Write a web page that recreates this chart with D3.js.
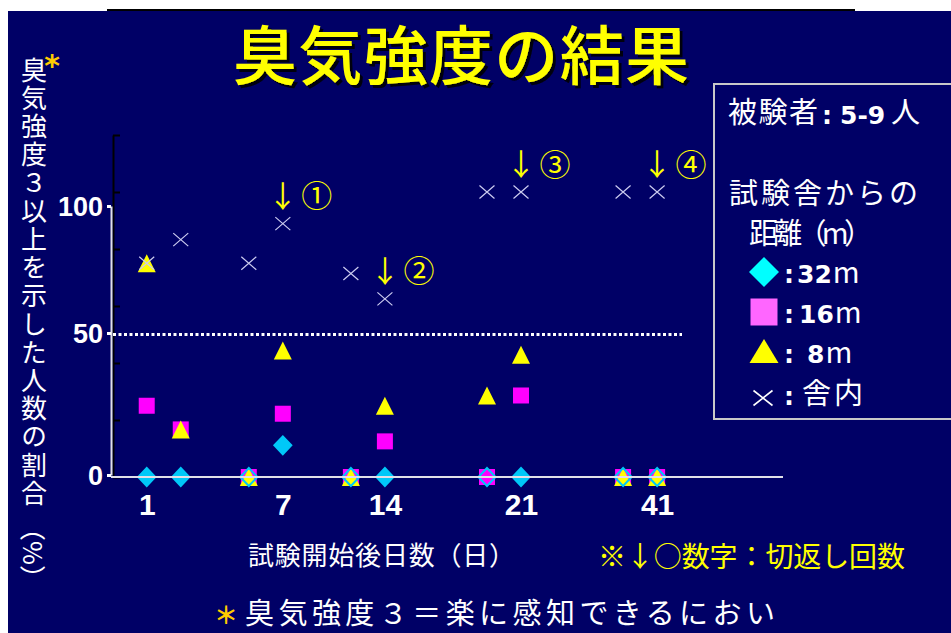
<!DOCTYPE html>
<html><head><meta charset="utf-8">
<script src="https://cdn.jsdelivr.net/npm/d3@7"></script>
<style>
html,body{margin:0;padding:0;background:#fff;}
svg{display:block;}
</style></head><body>
<svg id="chart" width="951" height="633"></svg>
<script>
// Sampling days sit on a categorical axis; a slot is a position along it
const slots = [0, 1, 3, 4, 6, 7, 10, 11, 14, 15];
const tickSlots = [0, 4, 7, 11, 15];
const tickLabels = ["1", "7", "14", "21", "41"];

// Share (%) of panelists reporting odour intensity 3 or higher
const dist32 = [0, 0, 0, 11.1, 0, 0, 0, 0, 0, 0];
const dist16 = [25, 16.7, 0, 22.2, 0, 12.5, 0, 28.6, 0, 0];
const dist8  = [75, 16.7, 0, 44.4, 0, 25, 28.6, 42.9, 0, 0];
const indoor = [75, 83.3, 75, 88.9, 71.4, 62.5, 100, 100, 100, 100];

// Litter turning events (index into the sampling days)
const turnIdx = [3, 5, 7, 9];
const turnLabels = ["①", "②", "③", "④"];

const minorTicks = [0, 20, 40, 60, 80, 100, 120];
const yTicks = [0, 50, 100];
const refLine = 50;

const JP = "'Noto Sans CJK JP', 'Noto Sans CJK SC', sans-serif";
const NUM = "'Liberation Sans', Arial, sans-serif";
const NUMW = "'DejaVu Sans', sans-serif";
const NAVY = "#000066";

const svg = d3.select("#chart");

const defs = svg.append("defs");
defs.append("filter").attr("id", "shadow").attr("x", "-5%").attr("y", "-10%")
  .attr("width", "115%").attr("height", "130%")
  .append("feDropShadow").attr("dx", 3).attr("dy", 3).attr("stdDeviation", 0.4)
  .attr("flood-color", "#000010").attr("flood-opacity", 1);

// page and panel
svg.append("rect").attr("width", 951).attr("height", 633).attr("fill", "#fff");
svg.append("rect").attr("x", 8).attr("y", 11).attr("width", 943).attr("height", 622).attr("fill", NAVY);
svg.append("line").attr("x1", 107).attr("x2", 855).attr("y1", 10).attr("y2", 10)
  .attr("stroke", "#000").attr("stroke-width", 2);

// title with drop shadow
svg.append("text").attr("x", 461).attr("y", 51)
  .attr("text-anchor", "middle").attr("dominant-baseline", "central")
  .attr("font-family", JP).attr("font-weight", 500).attr("font-size", 64)
  .attr("textLength", 456).attr("lengthAdjust", "spacing")
  .attr("fill", "#ffff00").attr("filter", "url(#shadow)").text("臭気強度の結果");

// scales
const x = d3.scaleLinear().domain([-1.05, 18.7]).range([111, 783]);
const y = d3.scaleLinear().domain([0, 120]).range([477, 135]);
// the white labelled axis is laid over the plot with its own spacing
const yLab = d3.scaleLinear().domain([0, 50, 100]).range([475, 333, 206]);

// underlying black value axis
const gBlack = svg.append("g").attr("transform", "translate(113,0)")
  .call(d3.axisRight(y).tickValues(minorTicks).tickSize(7).tickSizeOuter(0).tickFormat(""));
gBlack.select(".domain").attr("stroke", "#000").attr("stroke-width", 2);
gBlack.selectAll(".tick line").attr("stroke", "#000").attr("stroke-width", 2);

// 50 % reference line
svg.append("line").attr("x1", 113).attr("x2", 682)
  .attr("y1", y(refLine)).attr("y2", y(refLine))
  .attr("stroke", "#fff").attr("stroke-width", 3).attr("stroke-dasharray", "3,2.5");

// marker shapes
const diamond = (w, h) => `M0,${-h}L${w},0L0,${h}L${-w},0Z`;
const square = s => `M${-s},${-s}H${s}V${s}H${-s}Z`;
const triangle = (w, h) => `M0,${-h}L${w},${h}L${-w},${h}Z`;
const cross = (w, h) => `M${-w},${-h}L${w},${h}M${w},${-h}L${-w},${h}`;

function plot(values, path, attrs) {
  const sel = svg.append("g").selectAll("path").data(values).join("path")
    .attr("transform", (d, i) => `translate(${x(slots[i])},${y(d)})`)
    .attr("d", path);
  Object.entries(attrs).forEach(([k, v]) => sel.attr(k, v));
  return sel;
}

plot(dist32, diamond(8.5, 9), { fill: "#00c8f8" });
plot(dist16, square(8), { fill: "#ff00ff" });
plot(dist8, triangle(9, 9), { fill: "#ffff00" });
plot(dist32, diamond(8.5, 9), { fill: "none", stroke: "#00c8f8", "stroke-width": 2 });
plot(indoor, cross(7.5, 6.5), { fill: "none", stroke: "#ccccf0", "stroke-width": 1.2 });

// x axis
const gx = svg.append("g").attr("transform", `translate(0,${y(0)})`)
  .call(d3.axisBottom(x).tickValues(tickSlots).tickSize(0).tickPadding(8)
    .tickFormat((d, i) => tickLabels[i]));
gx.select(".domain").attr("d", `M${x.range()[0]},0H${x.range()[1]}`)
  .attr("stroke", "#e0e0e8").attr("stroke-width", 2);
gx.selectAll(".tick text").attr("fill", "#fff").attr("font-family", NUM)
  .attr("font-weight", 700).attr("font-size", 30).attr("dy", "0.71em").attr("y", 17);

// white labelled y axis
const gy = svg.append("g").attr("transform", "translate(111,0)")
  .call(d3.axisLeft(yLab).tickValues(yTicks).tickSize(4).tickSizeOuter(0).tickPadding(4)
    .tickFormat(d3.format("d")));
gy.select(".domain").attr("stroke", "#e0e0e8").attr("stroke-width", 2);
gy.selectAll(".tick line").attr("stroke", "#fff").attr("stroke-width", 3);
gy.selectAll(".tick text").attr("fill", "#fff").attr("font-family", NUM)
  .attr("font-weight", 700).attr("font-size", 27).attr("dy", "0.36em");

// turning annotations above the indoor markers
const ann = svg.append("g").selectAll("g").data(turnIdx).join("g")
  .attr("transform", d => `translate(${x(slots[d])},${y(indoor[d]) - 30})`);
ann.append("text").attr("text-anchor", "middle").attr("dominant-baseline", "central")
  .attr("font-family", JP).attr("font-size", 30).attr("fill", "#ffff00").text("↓");
ann.append("text").attr("x", 34).attr("text-anchor", "middle").attr("dominant-baseline", "central")
  .attr("font-family", JP).attr("font-size", 31).attr("fill", "#ffff00")
  .text((d, i) => turnLabels[i]);

// vertical y-axis title
svg.append("text").attr("x", 34).attr("y", 57)
  .style("writing-mode", "vertical-rl")
  .attr("font-family", JP).attr("font-size", 26).attr("letter-spacing", 2.2)
  .attr("fill", "#fff").text("臭気強度３以上を示した人数の割合");
svg.append("text").attr("transform", "translate(34,553) rotate(90)")
  .attr("text-anchor", "middle").attr("dominant-baseline", "central")
  .attr("font-family", JP).attr("font-size", 26).attr("fill", "#fff").text("（%）");
svg.append("text").attr("x", 52).attr("y", 76).attr("text-anchor", "middle")
  .attr("font-family", NUMW).attr("font-weight", 700).attr("font-size", 30)
  .attr("fill", "#ffcc00").text("*");

// legend panel
const lg = svg.append("g");
lg.append("rect").attr("x", 714).attr("y", 84).attr("width", 260).attr("height", 335)
  .attr("fill", "none").attr("stroke", "#c8c8c8").attr("stroke-width", 2);

function t(g, xx, yy, str, font, size, weight, fill, len) {
  const e = g.append("text").attr("x", xx).attr("y", yy).attr("font-family", font)
    .attr("font-size", size).attr("font-weight", weight).attr("fill", fill).text(str);
  if (len) e.attr("textLength", len).attr("lengthAdjust", "spacing");
  return e;
}
t(lg, 728, 123, "被験者", JP, 29, 400, "#fff", 90);
t(lg, 822, 124, ":", NUMW, 25, 700, "#fff");
t(lg, 840, 124, "5-9", NUMW, 25, 700, "#fff");
t(lg, 891, 123, "人", JP, 29, 400, "#fff");
t(lg, 729, 204, "試験舎からの", JP, 29, 400, "#fff", 189);
t(lg, 749, 244, "距離（m）", JP, 29, 400, "#fff", 124);

const legendRows = [
  { sym: diamond(15, 15), fill: "#00ffff", cy: 272, label: "32", lx: 797, base: 283 },
  { sym: square(13.5), fill: "#ff66ff", cy: 312, label: "16", lx: 799, base: 323 },
  { sym: triangle(14.5, 12), fill: "#ffff00", cy: 351, label: "8", lx: 807, base: 363 }
];
legendRows.forEach(r => {
  lg.append("path").attr("transform", `translate(764,${r.cy})`).attr("d", r.sym).attr("fill", r.fill);
  t(lg, 784, r.base, ":", NUMW, 25, 700, "#fff");
  const num = t(lg, r.lx, r.base, r.label, NUMW, 25, 700, "#fff");
  t(lg, r.lx + num.node().getComputedTextLength() + 1, r.base, "m", JP, 29, 400, "#fff");
});
lg.append("path").attr("transform", "translate(763,398)").attr("d", cross(9.5, 7.5))
  .attr("stroke", "#fff").attr("stroke-width", 1.6).attr("fill", "none");
t(lg, 784, 405, ":", NUMW, 25, 700, "#fff");
t(lg, 802, 404, "舎内", JP, 29, 400, "#fff", 61);

// axis caption and notes
t(svg, 248, 565, "試験開始後日数（日）", JP, 26, 400, "#fff", 267);
t(svg, 598, 567, "※↓○数字：切返し回数", JP, 28, 400, "#ffff00", 307);
t(svg, 226, 624, "＊", JP, 24, 700, "#ffcc00").attr("text-anchor", "middle");
t(svg, 245, 624, "臭気強度３＝楽に感知できるにおい", JP, 29, 400, "#fff", 530);
</script>
</body></html>
